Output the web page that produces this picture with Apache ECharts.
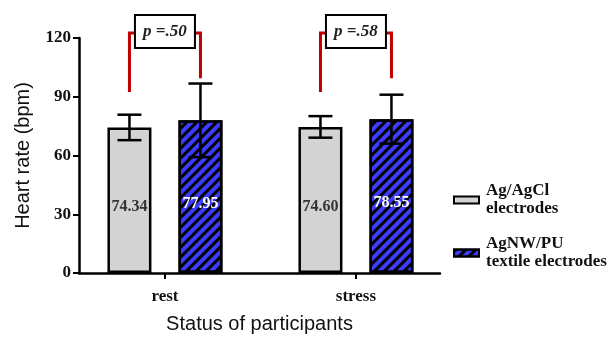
<!DOCTYPE html>
<html>
<head>
<meta charset="utf-8">
<script src="https://cdn.jsdelivr.net/npm/echarts@6/dist/echarts.min.js"></script>
<style>html,body{margin:0;padding:0;background:#fff}#c{width:614px;height:339px}</style>
</head>
<body>
<div id="c"></div>
<script>
// ---- data ----
const categories = ['rest', 'stress'];
const groupPos = [0, 1];
const agMean = [74.34, 74.60];
const agSD = [6.5, 5.5];
const nwMean = [77.95, 78.55];
const nwSD = [18.8, 12.5];
const pLabels = ['p =.50', 'p =.58'];
const bracketTop = [122.5, 122.5];
const bracketLeftEnd = [92.4, 92.4];
const bracketRightEnd = [99.4, 99.4];
const seriesNames = ['Ag/AgCl\nelectrodes', 'AgNW/PU\ntextile electrodes'];
const yTicks = { min: 0, max: 120, interval: 30 };

// ---- style ----
const SERIF = '"Liberation Serif","Times New Roman",serif';
const SANS = '"Liberation Sans",Arial,sans-serif';
const BAR_W = 44, GAP_PX = 27, HALF = (BAR_W + GAP_PX) / 2;

const chart = echarts.init(document.getElementById('c'), null, { renderer: 'canvas' });

function errRender(offset) {
  return function (params, api) {
    const x = api.value(0), m = api.value(1), sd = api.value(2);
    const cx = api.coord([x, m])[0] + offset;
    const yt = api.coord([x, m + sd])[1];
    const yb = api.coord([x, m - sd])[1];
    const st = { stroke: '#000', lineWidth: 2.5 };
    return {
      type: 'group',
      children: [
        { type: 'line', shape: { x1: cx, y1: yt, x2: cx, y2: yb }, style: st },
        { type: 'line', shape: { x1: cx - 12, y1: yt, x2: cx + 12, y2: yt }, style: st },
        { type: 'line', shape: { x1: cx - 12, y1: yb, x2: cx + 12, y2: yb }, style: st }
      ]
    };
  };
}

function bracketRender(params, api) {
  const x = api.value(0);
  const cx = api.coord([x, 0])[0];
  const xl = cx - HALF, xr = cx + HALF;
  const yTop = api.coord([x, api.value(1)])[1];
  const yL = api.coord([x, api.value(2)])[1];
  const yR = api.coord([x, api.value(3)])[1];
  const red = { stroke: '#c00000', lineWidth: 3, fill: null };
  const bw = 60, bh = 33, by = yTop - 1.5 - bh / 2;
  return {
    type: 'group',
    children: [
      { type: 'polyline', shape: { points: [[xl, yL], [xl, yTop], [cx - bw / 2, yTop]] }, style: red },
      { type: 'polyline', shape: { points: [[xr, yR], [xr, yTop], [cx + bw / 2, yTop]] }, style: red },
      { type: 'rect', shape: { x: cx - bw / 2, y: by, width: bw, height: bh }, style: { fill: '#fff', stroke: '#000', lineWidth: 2 } },
      { type: 'text', x: cx, y: by + bh / 2, style: { text: pLabels[params.dataIndex], font: 'italic bold 17px ' + SERIF, fill: '#222', align: 'center', verticalAlign: 'middle' } }
    ]
  };
}

const option = {
  animation: false,
  backgroundColor: '#fff',
  grid: { left: 79, right: 174, top: 38, bottom: 62 },
  legend: {
    data: seriesNames,
    orient: 'vertical',
    left: 448,
    top: 177,
    itemWidth: 25,
    itemHeight: 7,
    itemGap: 17,
    icon: 'rect',
    textStyle: { fontFamily: SERIF, fontWeight: 'bold', fontSize: 17, lineHeight: 18, color: '#111', padding: [0, 0, 0, 2] }
  },
  xAxis: {
    type: 'value',
    min: -0.45,
    max: 1.44,
    splitLine: { show: false },
    axisLine: { show: true, onZero: false, lineStyle: { color: '#000', width: 2.5 } },
    axisTick: { show: true, customValues: groupPos, length: 6, lineStyle: { color: '#000', width: 2 } },
    axisLabel: {
      customValues: groupPos,
      formatter: v => categories[Math.round(v)],
      fontFamily: SERIF, fontWeight: 'bold', fontSize: 17, color: '#111', margin: 15
    },
    name: 'Status of participants',
    nameLocation: 'middle',
    nameGap: 41,
    nameTextStyle: { fontFamily: SANS, fontSize: 20, color: '#111' }
  },
  yAxis: {
    type: 'value',
    min: yTicks.min, max: yTicks.max, interval: yTicks.interval,
    splitLine: { show: false },
    axisLine: { show: true, onZero: false, lineStyle: { color: '#000', width: 2.5 } },
    axisTick: { show: true, length: 6, lineStyle: { color: '#000', width: 2 } },
    axisLabel: { fontFamily: SERIF, fontWeight: 'bold', fontSize: 17, color: '#111', margin: 8 },
    name: 'Heart rate (bpm)',
    nameLocation: 'middle',
    nameGap: 46,
    nameTextStyle: { fontFamily: SANS, fontSize: 20, color: '#111' }
  },
  series: [
    {
      name: seriesNames[0],
      type: 'bar',
      barWidth: BAR_W,
      barGap: (GAP_PX / BAR_W * 100).toFixed(1) + '%',
      data: groupPos.map((p, i) => [p, agMean[i]]),
      itemStyle: { color: '#d3d3d3', borderColor: '#000', borderWidth: 2.5 },
      label: {
        show: true, position: 'inside', offset: [0, 7],
        formatter: p => p.value[1].toFixed(2),
        fontFamily: SERIF, fontWeight: 'bold', fontSize: 16, color: '#333'
      }
    },
    {
      name: seriesNames[1],
      type: 'bar',
      barWidth: BAR_W,
      data: groupPos.map((p, i) => [p, nwMean[i]]),
      itemStyle: {
        color: '#3c3cff', borderColor: '#000', borderWidth: 2.5,
        decal: { symbol: 'rect', symbolSize: 1, color: '#000', dashArrayX: [1, 0], dashArrayY: [3, 3.5], rotation: -Math.PI / 4 }
      },
      label: {
        show: true, position: 'inside', offset: [0, 7],
        formatter: p => p.value[1].toFixed(2),
        fontFamily: SERIF, fontWeight: 'bold', fontSize: 16, color: '#fff'
      }
    },
    {
      type: 'custom',
      renderItem: errRender(-HALF),
      data: groupPos.map((p, i) => [p, agMean[i], agSD[i]]),
      encode: { x: 0, y: 1 },
      z: 5, silent: true
    },
    {
      type: 'custom',
      renderItem: errRender(HALF),
      data: groupPos.map((p, i) => [p, nwMean[i], nwSD[i]]),
      encode: { x: 0, y: 1 },
      z: 5, silent: true
    },
    {
      type: 'custom',
      renderItem: bracketRender,
      data: groupPos.map((p, i) => [p, bracketTop[i], bracketLeftEnd[i], bracketRightEnd[i]]),
      encode: { x: 0, y: 1 },
      clip: false,
      z: 6, silent: true
    }
  ]
};
chart.setOption(option);
</script>
</body>
</html>
